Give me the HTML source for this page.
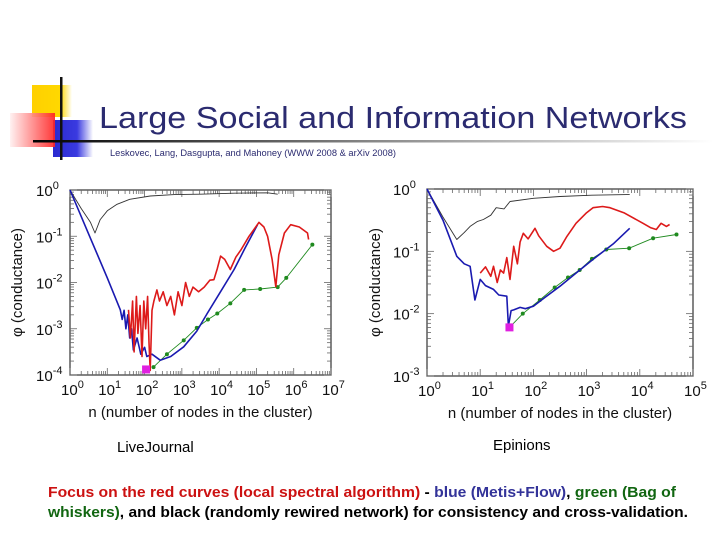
<!DOCTYPE html>
<html><head><meta charset="utf-8"><style>
html,body{margin:0;padding:0;background:#fff;}
svg{display:block;font-family:"Liberation Sans",sans-serif;}
</style></head><body>
<svg id="page" width="720" height="540" viewBox="0 0 720 540" xmlns="http://www.w3.org/2000/svg">
<defs>
<linearGradient id="gb" x1="0" x2="1"><stop offset="0" stop-color="#2a2ad0"/><stop offset="0.6" stop-color="#3a3ae0"/><stop offset="1" stop-color="#fff"/></linearGradient>
<linearGradient id="gy" x1="0" x2="1"><stop offset="0" stop-color="#ffd000"/><stop offset="0.7" stop-color="#ffd800"/><stop offset="1" stop-color="#fff"/></linearGradient>
<linearGradient id="gr" x1="1" x2="0"><stop offset="0" stop-color="#ff2020"/><stop offset="1" stop-color="#fff0f0"/></linearGradient>
<linearGradient id="gl" x1="0" x2="1"><stop offset="0" stop-color="#000"/><stop offset="0.5" stop-color="#888"/><stop offset="1" stop-color="#fff"/></linearGradient>
</defs>
<g>
<rect x="32" y="85" width="40" height="32" fill="url(#gy)"/>
<rect x="53" y="120" width="40" height="37" fill="url(#gb)"/>
<rect x="10" y="113" width="45" height="34" fill="url(#gr)" opacity="0.9"/>
<rect x="60" y="77" width="2.5" height="83" fill="#111"/>
<rect x="33" y="140" width="680" height="2.5" fill="url(#gl)"/>
</g>
<text x="99" y="128" font-size="31" fill="#2b2b70" textLength="588" lengthAdjust="spacingAndGlyphs">Large Social and Information Networks</text>
<text x="110" y="156" font-size="9" fill="#2b2b70" textLength="286" lengthAdjust="spacingAndGlyphs">Leskovec, Lang, Dasgupta, and Mahoney (WWW 2008 &amp; arXiv 2008)</text>
<g id="left"></g>
<g id="right"></g>
<text x="117" y="452" font-size="15" fill="#000">LiveJournal</text>
<text x="493" y="450" font-size="15" fill="#000">Epinions</text>
<text x="48" y="497" font-size="15" font-weight="bold" textLength="628" lengthAdjust="spacingAndGlyphs"><tspan fill="#cc1111">Focus on the red curves (local spectral algorithm)</tspan><tspan fill="#000"> - </tspan><tspan fill="#333399">blue (Metis+Flow)</tspan><tspan fill="#000">, </tspan><tspan fill="#116611">green (Bag of</tspan></text>
<text x="48" y="517" font-size="15" font-weight="bold" textLength="640" lengthAdjust="spacingAndGlyphs"><tspan fill="#116611">whiskers)</tspan><tspan fill="#000">, and black (randomly rewired network) for consistency and cross-validation.</tspan></text>
</svg>
<script>
// data in log10 units (x = log10 n, y = log10 conductance)
const ljBlackX=[0,0.3,0.55,0.67,0.81,1.0,1.26,1.6,2.15,2.8,3.5,4.4,5.3,5.57];
const ljBlackY=[0,-0.4,-0.7,-0.93,-0.64,-0.45,-0.31,-0.2,-0.13,-0.1,-0.09,-0.07,-0.06,-0.09];
const ljBlueX=[0,0.5,1.0,1.35,1.4,1.45,1.5,1.55,1.6,1.65,1.7,1.8,1.9,2.0,2.06,2.2,2.42,2.7,3.05,3.4,3.68,4.0,4.4,4.7,5.03];
const ljBlueY=[0,-0.95,-1.9,-2.59,-2.8,-2.6,-3.0,-2.7,-3.2,-3.0,-3.46,-3.2,-3.55,-3.4,-3.6,-3.55,-3.68,-3.6,-3.39,-3.05,-2.67,-2.25,-1.72,-1.25,-0.75];
const ljRedX=[1.57,1.62,1.68,1.72,1.78,1.82,1.88,1.93,1.98,2.03,2.08,2.12,2.15,2.2,2.25,2.33,2.4,2.5,2.6,2.7,2.8,2.9,3.0,3.1,3.2,3.3,3.45,3.6,3.75,3.86,3.95,4.04,4.15,4.3,4.45,4.58,4.8,5.07,5.2,5.3,5.42,5.52,5.6,5.75,5.92,6.15,6.37,6.4];
const ljRedY=[-2.59,-3.2,-2.4,-3.5,-2.3,-3.1,-2.5,-3.6,-2.4,-3.0,-2.3,-3.3,-3.9,-2.6,-2.4,-2.16,-2.4,-2.2,-2.5,-2.3,-2.7,-2.2,-2.5,-2.0,-2.3,-2.1,-2.2,-2.1,-1.95,-1.94,-1.7,-1.43,-1.5,-1.72,-1.45,-1.3,-1.0,-0.7,-0.8,-1.0,-1.5,-2.09,-1.4,-0.93,-0.75,-0.8,-0.93,-1.07];
const ljGreenX=[2.24,2.6,3.05,3.4,3.7,3.95,4.3,4.67,5.1,5.57,5.8,6.5];
const ljGreenY=[-3.83,-3.55,-3.25,-2.98,-2.8,-2.67,-2.45,-2.16,-2.14,-2.1,-1.9,-1.18];
const ljMinX=[2.04];
const ljMinY=[-3.88];
const epBlackX=[0,0.3,0.56,0.7,0.81,0.95,1.06,1.2,1.3,1.45,1.56,2.0,2.5,3.1,3.75,3.81];
const epBlackY=[0,-0.45,-0.81,-0.7,-0.6,-0.52,-0.49,-0.42,-0.3,-0.32,-0.2,-0.15,-0.12,-0.1,-0.09,-0.09];
const epBlueX=[0,0.3,0.56,0.7,0.81,0.9,1.0,1.1,1.25,1.35,1.5,1.53,1.58,1.63,1.75,1.85,2.0,2.2,2.5,2.8,3.12,3.5,3.81];
const epBlueY=[0,-0.5,-1.08,-1.2,-1.24,-1.78,-1.45,-1.55,-1.61,-1.7,-1.72,-2.2,-1.95,-1.94,-1.9,-1.92,-1.88,-1.75,-1.56,-1.35,-1.13,-0.88,-0.63];
const epRedX=[1.0,1.1,1.2,1.25,1.32,1.38,1.44,1.5,1.56,1.63,1.7,1.75,1.81,1.9,2.03,2.1,2.25,2.38,2.5,2.63,2.8,3.0,3.12,3.3,3.44,3.7,4.06,4.2,4.31,4.4,4.5,4.56];
const epRedY=[-1.35,-1.25,-1.4,-1.24,-1.5,-1.3,-1.35,-1.1,-1.45,-0.92,-1.2,-0.85,-0.71,-0.8,-0.63,-0.75,-0.92,-1.0,-0.95,-0.76,-0.55,-0.38,-0.3,-0.28,-0.3,-0.38,-0.55,-0.62,-0.65,-0.55,-0.6,-0.57];
const epGreenX=[1.55,1.8,2.12,2.4,2.65,2.87,3.1,3.37,3.8,4.25,4.69];
const epGreenY=[-2.22,-2.0,-1.78,-1.58,-1.42,-1.3,-1.12,-0.97,-0.95,-0.79,-0.73];
const epMinX=[1.55];
const epMinY=[-2.22];

const NS='http://www.w3.org/2000/svg';
function mk(tag,attrs,parent){const e=document.createElementNS(NS,tag);for(const k in attrs)e.setAttribute(k,attrs[k]);parent.appendChild(e);return e;}

function chart(g,cfg,series){
  const {x0,x1,y0,y1,xmin,xmax,ymin,ymax}=cfg;
  const sx=v=>x0+(v-xmin)/(xmax-xmin)*(x1-x0);
  const sy=v=>y1-(v-ymin)/(ymax-ymin)*(y1-y0);
  const frame=mk('rect',{x:x0,y:y0,width:x1-x0,height:y1-y0,fill:'none',stroke:'#333','stroke-width':1.2},g);
  
  
  for(let d=xmin;d<=xmax;d++){
    for(let m=1;m<10;m++){
      const v=d+Math.log10(m); if(v>xmax) break;
      const len=m===1?7:4, X=sx(v);
      mk('line',{x1:X,x2:X,y1:y1,y2:y1-len,stroke:'#666','stroke-width':0.8},g);
      mk('line',{x1:X,x2:X,y1:y0,y2:y0+len,stroke:'#666','stroke-width':0.8},g);
    }
    const t=mk('text',{x:sx(d)-9,y:y1+20,'font-size':15,fill:'#111'},g);
    
    
    t.innerHTML='10<tspan dy="-7" font-size="11">'+d+'</tspan>';
  }
  for(let d=ymin;d<=ymax;d++){
    for(let m=1;m<10;m++){
      const v=d+Math.log10(m); if(v>ymax) break;
      const len=m===1?7:4, Y=sy(v);
      mk('line',{x1:x0,x2:x0+len,y1:Y,y2:Y,stroke:'#666','stroke-width':0.8},g);
      mk('line',{x1:x1,x2:x1-len,y1:Y,y2:Y,stroke:'#666','stroke-width':0.8},g);
    }
    const t=mk('text',{x:x0-34,y:sy(d)+6,'font-size':15,fill:'#111'},g);
    
    
    t.innerHTML='10<tspan dy="-7" font-size="11">'+d+'</tspan>';
  }
  const xl=mk('text',{x:(x0+x1)/2,y:y1+42,'font-size':15,'text-anchor':'middle',fill:'#111'},g);
  xl.textContent='n (number of nodes in the cluster)';
  
  
  const yl=mk('text',{x:0,y:0,'font-size':15,'text-anchor':'middle',fill:'#111',transform:`translate(${cfg.ylx},${(y0+y1)/2}) rotate(-90)`},g);
  yl.textContent='φ (conductance)';
  
  
  series.forEach(s=>{
    const pts=s.x.map((v,i)=>sx(v).toFixed(1)+','+sy(s.y[i]).toFixed(1)).join(' ');
    const p=mk('polyline',{points:pts,fill:'none',stroke:s.c,'stroke-width':s.w,'stroke-linejoin':'round'},g);
    
    
    if(s.dots){s.x.forEach((v,i)=>{const c=mk('circle',{cx:sx(v),cy:sy(s.y[i]),r:2,fill:s.c},g);
      
      });}
  });
  const m=mk('rect',{x:sx(cfg.mx[0])-4,y:sy(cfg.my[0])-4,width:8,height:8,fill:'#e020e0'},g);
  
  
}
chart(document.getElementById('left'),{x0:70,x1:331,y0:190,y1:375,xmin:0,xmax:7,ymin:-4,ymax:0,ylx:22,mx:ljMinX,my:ljMinY},[
 {name:'black-series',x:ljBlackX,y:ljBlackY,c:'#333',w:0.9},
 {name:'green-series',x:ljGreenX,y:ljGreenY,c:'#1f8a1f',w:0.9,dots:true},
 {name:'blue-series',x:ljBlueX,y:ljBlueY,c:'#1a1ab0',w:1.6},
 {name:'red-series',x:ljRedX,y:ljRedY,c:'#dd1a1a',w:1.6}]);
chart(document.getElementById('right'),{x0:427,x1:693,y0:189,y1:376,xmin:0,xmax:5,ymin:-3,ymax:0,ylx:380,mx:epMinX,my:epMinY},[
 {name:'black-series',x:epBlackX,y:epBlackY,c:'#333',w:0.9},
 {name:'green-series',x:epGreenX,y:epGreenY,c:'#1f8a1f',w:0.9,dots:true},
 {name:'blue-series',x:epBlueX,y:epBlueY,c:'#1a1ab0',w:1.6},
 {name:'red-series',x:epRedX,y:epRedY,c:'#dd1a1a',w:1.6}]);
</script>
</body></html>
